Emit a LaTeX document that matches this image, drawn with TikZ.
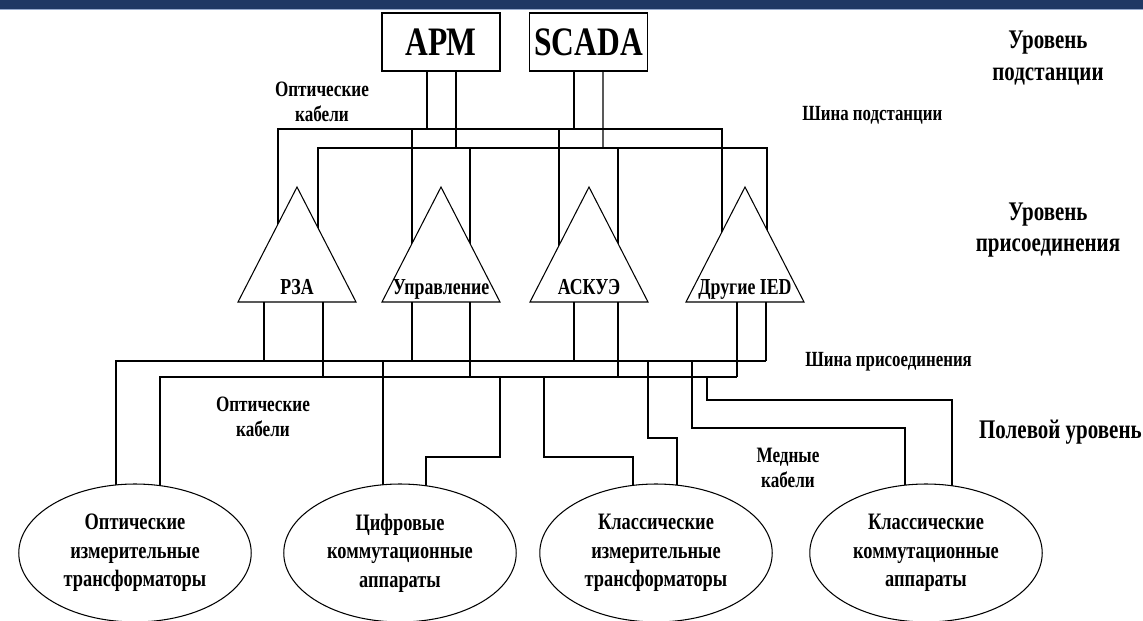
\documentclass[tikz,border=0pt]{standalone}
\usepackage{fontspec}
\setmainfont{Liberation Serif}[FakeStretch=0.78]
\usetikzlibrary{calc,shapes,backgrounds,positioning}
\definecolor{bandblue}{RGB}{31,56,100}
\definecolor{bandline}{RGB}{150,170,205}

\begin{document}
\begin{tikzpicture}[x=0.02cm,y=-0.02cm]
		\tikzstyle{wire}=[draw=black,line width=0.6pt]
		\tikzstyle{ws}=[draw,fill=white,line width=0.6pt,minimum width=2.36cm,minimum height=1.16cm,inner sep=0pt,font=\bfseries\fontsize{23}{26}\selectfont]
		\tikzstyle{dev}=[draw,fill=white,line width=0.6pt,ellipse,minimum width=4.65cm,minimum height=2.76cm,inner sep=0pt,align=center,font=\bfseries\fontsize{13.4}{16.2}\selectfont]
		\tikzstyle{tri}=[draw,fill=white,line width=0.6pt,line join=miter]
		\tikzstyle{iedtext}=[anchor=base,inner sep=0pt,font=\bfseries\fontsize{13}{15}\selectfont]
		\tikzstyle{lbl}=[align=center,inner sep=0pt,font=\bfseries\fontsize{12.5}{14.3}\selectfont]
		\tikzstyle{buslbl}=[anchor=west,inner sep=0pt,font=\bfseries\fontsize{12.3}{14}\selectfont]
		\tikzstyle{lvl}=[align=center,inner sep=0pt,font=\bfseries\fontsize{15.3}{18}\selectfont]

		\useasboundingbox (0,0) rectangle (1143,621);
		\fill[bandblue] (0,0) rectangle (1143,9);
		\fill[bandline] (0,9) rectangle (1143,10.5);

		\node[ws] (apm) at (441,42) {АРМ};
		\node[ws] (scada) at (588.5,42) {SCADA};

		\draw[tri] (297,187) -- (356,302) -- (238,302) -- cycle;
		\draw[tri] (441,187) -- (500,302) -- (382,302) -- cycle;
		\draw[tri] (589,187) -- (648,302) -- (530,302) -- cycle;
		\draw[tri] (745,187) -- (804,302) -- (686,302) -- cycle;
		\node[iedtext] (rza) at (297,295) {РЗА};
		\node[iedtext] (upr) at (441,295) {Управление};
		\node[iedtext] (askue) at (589,295) {АСКУЭ};
		\node[iedtext] (other) at (745,295) {Другие IED};

		\node[dev] (optit) at (135,553) {Оптические\\измерительные\\трансформаторы};
		\node[dev] (digsw) at (400,553) {Цифровые\\коммутационные\\аппараты};
		\node[dev] (clsit) at (656,553) {Классические\\измерительные\\трансформаторы};
		\node[dev] (clssw) at (926,553) {Классические\\коммутационные\\аппараты};

		\node[lbl] (optup) at (322,102) {Оптические\\кабели};
		\node[buslbl] (stbus) at (802,115) {Шина подстанции};
		\node[lvl] (lvlst) at (1048,58) {Уровень\\подстанции};
		\node[lvl] (lvlbay) at (1048,230) {Уровень\\присоединения};
		\node[buslbl] (baybus) at (805,362) {Шина присоединения};
		\node[lvl,anchor=east] (lvlfld) at (1142,432) {Полевой уровень};
		\node[lbl] (optdn) at (263,417) {Оптические\\кабели};
		\node[lbl] (copper) at (788,468) {Медные\\кабели};

		\begin{pgfonlayer}{background}
		% substation bus
		\draw[wire] ($(apm.south)+(-14,0)$) -- (427,129);
		\draw[wire] ($(apm.south)+(15,0)$) -- (456,148);
		\draw[wire] ($(scada.south)+(-14.5,0)$) -- (574,129);
		\draw[wire] ($(scada.south)+(14.5,0)$) -- (603,148);
		\draw[wire] (278,302) -- (278,129) -- (722,129) -- (722,302);
		\draw[wire] (318,302) -- (318,148) -- (767,148) -- (767,302);
		\draw[wire] (412,129) -- (412,302);
		\draw[wire] (470,148) -- (470,302);
		\draw[wire] (559,129) -- (559,302);
		\draw[wire] (618,148) -- (618,302);

		% bay bus
		\draw[wire] (264,302) -- (264,361);
		\draw[wire] (323,302) -- (323,377);
		\draw[wire] (412,302) -- (412,361);
		\draw[wire] (470,302) -- (470,377);
		\draw[wire] (574,302) -- (574,361);
		\draw[wire] (618,302) -- (618,377);
		\draw[wire] (737,302) -- (737,377);
		\draw[wire] (766,302) -- (766,361);
		\draw[wire] (116,520) -- (116,361) -- (766,361);
		\draw[wire] (160,520) -- (160,377) -- (737,377);

		% field cables
		\draw[wire] (383,361) -- (383,520);
		\draw[wire] (500,377) -- (500,457) -- (426,457) -- (426,520);
		\draw[wire] (544,377) -- (544,457) -- (633,457) -- (633,520);
		\draw[wire] (648,361) -- (648,438) -- (677,438) -- (677,520);
		\draw[wire] (692,361) -- (692,428) -- (905,428) -- (905,520);
		\draw[wire] (707,377) -- (707,400) -- (952,400) -- (952,520);
		\end{pgfonlayer}
\end{tikzpicture}
\end{document}
